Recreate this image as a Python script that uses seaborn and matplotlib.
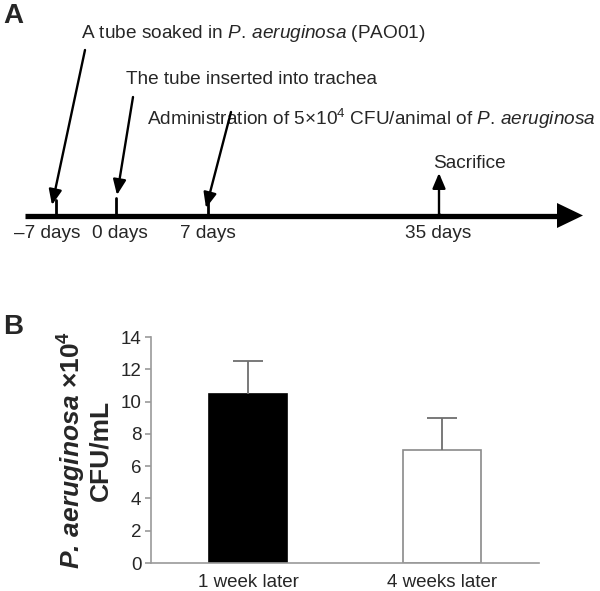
import numpy as np
import pandas as pd
import matplotlib
matplotlib.use("Agg")
import matplotlib.pyplot as plt
import seaborn as sns

# ---------------- data ----------------
# Panel A: timeline (schematic positions along the drawn line, in pixels)
event_labels = ["\u20137 days", "0 days", "7 days", "35 days"]
event_x = [56, 116, 208, 439]
label_x = [47, 120, 208, 438]
event_texts = [
    r"A tube soaked in $\mathit{P.\,aeruginosa}$ (PAO01)",
    r"The tube inserted into trachea",
    r"Administration of 5×10$^{4}$ CFU/animal of $\mathit{P.\,aeruginosa}$",
    r"Sacrifice",
]

# Panel B: bars
categories = ["1 week later", "4 weeks later"]
cfu_means = [10.5, 7.0]
cfu_err = [2.0, 2.0]
y_ticks = [0, 2, 4, 6, 8, 10, 12, 14]

# ---------------- style ----------------
sns.set_style("white")
plt.rcParams["font.family"] = ["Liberation Sans", "DejaVu Sans"]
plt.rcParams["mathtext.fontset"] = "custom"
plt.rcParams["mathtext.rm"] = "Liberation Sans"
plt.rcParams["mathtext.it"] = "Liberation Sans:italic"
plt.rcParams["mathtext.bf"] = "Liberation Sans:bold"
try:
    plt.rcParams["mathtext.bfit"] = "Liberation Sans:italic:bold"
except KeyError:
    pass

W, H = 600, 591
fig = plt.figure(figsize=(W / 100, H / 100), dpi=100)

# ---------------- panel A (timeline schematic) ----------------
axa = fig.add_axes([0, 0, 1, 1])
axa.set_xlim(0, W)
axa.set_ylim(H, 0)
axa.axis("off")

line_y = 215.5
axa.plot([25, 560], [line_y, line_y], color="black", lw=3.8, solid_capstyle="butt")
axa.fill([557, 583, 557], [line_y - 12.5, line_y, line_y + 12.5], color="black", lw=0)

tick_top = [200, 198, 202, 214]
for x, tt, lx, lab in zip(event_x, tick_top, label_x, event_labels):
    axa.plot([x, x], [tt, line_y], color="black", lw=2.0)
    axa.text(lx, 233, lab, ha="center", va="center", fontsize=13.7)

fs = 13.7
text_pos = [(81, 33), (126, 80), (147, 119), (433, 163)]
arrow_start = [(85, 50), (133, 97), (231, 112), (event_x[3], line_y)]
arrow_end = [(52, 205), (117, 195), (206, 208), (event_x[3], 173)]
for (tx, ty), txt in zip(text_pos, event_texts):
    axa.text(tx, ty, txt, ha="left", va="center", fontsize=fs)
for s, e in zip(arrow_start, arrow_end):
    axa.annotate("", xy=e, xytext=s,
                 arrowprops=dict(arrowstyle="-|>,head_length=0.4,head_width=0.17",
                                 color="black", lw=1.7,
                                 mutation_scale=23, shrinkA=0, shrinkB=0))

fig.text(3 / W, 1 - 3 / H, "A", fontsize=20, fontweight="bold", ha="left", va="top")
fig.text(3 / W, 1 - 314 / H, "B", fontsize=20, fontweight="bold", ha="left", va="top")

# ---------------- panel B (bar chart) ----------------
left, right, bottom, top = 151, 539, 563, 337
axb = fig.add_axes([left / W, (H - bottom) / H, (right - left) / W, (bottom - top) / H])
axb.patch.set_alpha(0)

df = pd.DataFrame({"time": categories, "cfu": cfu_means})
sns.barplot(data=df, x="time", y="cfu", hue="time", palette=["black", "white"],
            width=0.4, legend=False, ax=axb, linewidth=1.2, saturation=1)
edge_cols = ["black", "#8a8a8a"]
for p, ec in zip(axb.patches, edge_cols):
    p.set_edgecolor(ec)
    p.set_linewidth(1.2)

eb = axb.errorbar(np.arange(len(categories)), cfu_means,
                  yerr=[np.zeros(len(cfu_err)), cfu_err], fmt="none",
                  ecolor="#6e6e6e", elinewidth=1.3, capsize=11, capthick=1.3, zorder=1)
# only the upper cap is shown in the reference
if len(eb[1]) >= 2:
    eb[1][0].set_visible(False)

axb.set_xlim(-0.5, 1.5)
axb.set_ylim(0, 14)
axb.set_yticks(y_ticks)
axb.set_yticklabels([str(v) for v in y_ticks], fontsize=13.5)
axb.set_xticks(range(len(categories)))
axb.set_xticklabels(categories, fontsize=13.5)
axb.set_xticks([-0.5, 0.5, 1.5], minor=True)
axb.tick_params(axis="x", which="major", length=0, pad=8)
axb.tick_params(axis="x", which="minor", length=4, width=1.2, color="#9a9a9a", direction="out")
axb.tick_params(axis="y", which="major", length=4, width=1.2, color="#9a9a9a",
                direction="out", pad=3, left=True)
axb.set_xlabel("")
for sp in ["top", "right"]:
    axb.spines[sp].set_visible(False)
for sp in ["left", "bottom"]:
    axb.spines[sp].set_color("#9a9a9a")
    axb.spines[sp].set_linewidth(1.2)

axb.set_ylabel(r"$\mathbfit{P.\,aeruginosa}$ ×10$^{\mathbf{4}}$" + "\nCFU/mL",
               fontsize=19, fontweight="bold", multialignment="center", linespacing=1.0)
axb.yaxis.set_label_coords(-0.10, 0.5)

fig.savefig("out.png", dpi=100)
